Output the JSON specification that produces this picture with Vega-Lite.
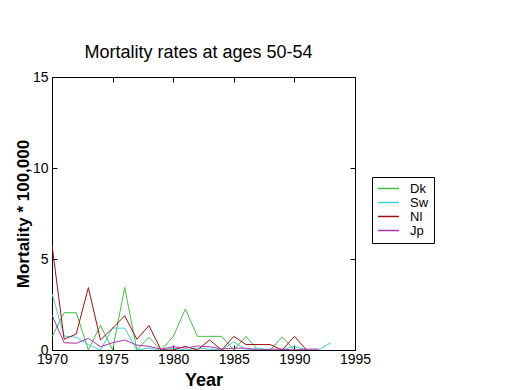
{
  "$schema": "https://vega.github.io/schema/vega-lite/v6.json",
  "width": 303,
  "height": 273,
  "autosize": {"type": "none"},
  "padding": {"left": 52, "top": 77, "right": 165, "bottom": 40},
  "background": "white",
  "config": {
    "view": {"stroke": "black", "strokeWidth": 1},
    "font": "Liberation Sans"
  },
  "title": {
    "text": "Mortality rates at ages 50-54",
    "font": "Liberation Sans",
    "fontSize": 18,
    "fontWeight": "normal",
    "color": "black",
    "offset": 8,
    "dx": -5
  },
  "data": {
    "values": [
      {"year": 1970, "country": "Dk", "v": 0.73},
      {"year": 1971, "country": "Dk", "v": 2.05},
      {"year": 1972, "country": "Dk", "v": 2.05},
      {"year": 1973, "country": "Dk", "v": 0.0},
      {"year": 1974, "country": "Dk", "v": 1.35},
      {"year": 1975, "country": "Dk", "v": 0.0},
      {"year": 1976, "country": "Dk", "v": 3.44},
      {"year": 1977, "country": "Dk", "v": 0.0},
      {"year": 1978, "country": "Dk", "v": 0.7},
      {"year": 1979, "country": "Dk", "v": 0.0},
      {"year": 1980, "country": "Dk", "v": 0.73},
      {"year": 1981, "country": "Dk", "v": 2.25},
      {"year": 1982, "country": "Dk", "v": 0.75},
      {"year": 1983, "country": "Dk", "v": 0.75},
      {"year": 1984, "country": "Dk", "v": 0.75},
      {"year": 1985, "country": "Dk", "v": 0.0},
      {"year": 1986, "country": "Dk", "v": 0.75},
      {"year": 1987, "country": "Dk", "v": 0.0},
      {"year": 1988, "country": "Dk", "v": 0.0},
      {"year": 1989, "country": "Dk", "v": 0.72},
      {"year": 1990, "country": "Dk", "v": 0.0},
      {"year": 1991, "country": "Dk", "v": 0.0},
      {"year": 1970, "country": "Sw", "v": 3.1},
      {"year": 1971, "country": "Sw", "v": 0.77},
      {"year": 1972, "country": "Sw", "v": 0.7},
      {"year": 1973, "country": "Sw", "v": 0.3},
      {"year": 1974, "country": "Sw", "v": 0.0},
      {"year": 1975, "country": "Sw", "v": 1.2},
      {"year": 1976, "country": "Sw", "v": 1.2},
      {"year": 1977, "country": "Sw", "v": 0.0},
      {"year": 1978, "country": "Sw", "v": 0.1},
      {"year": 1979, "country": "Sw", "v": 0.0},
      {"year": 1980, "country": "Sw", "v": 0.1},
      {"year": 1981, "country": "Sw", "v": 0.0},
      {"year": 1982, "country": "Sw", "v": 0.1},
      {"year": 1983, "country": "Sw", "v": 0.05},
      {"year": 1984, "country": "Sw", "v": 0.0},
      {"year": 1985, "country": "Sw", "v": 0.45},
      {"year": 1986, "country": "Sw", "v": 0.0},
      {"year": 1987, "country": "Sw", "v": 0.1},
      {"year": 1988, "country": "Sw", "v": 0.0},
      {"year": 1989, "country": "Sw", "v": 0.0},
      {"year": 1990, "country": "Sw", "v": 0.2},
      {"year": 1991, "country": "Sw", "v": 0.0},
      {"year": 1992, "country": "Sw", "v": 0.0},
      {"year": 1993, "country": "Sw", "v": 0.4},
      {"year": 1970, "country": "Nl", "v": 5.77},
      {"year": 1971, "country": "Nl", "v": 0.59},
      {"year": 1972, "country": "Nl", "v": 0.88},
      {"year": 1973, "country": "Nl", "v": 3.43},
      {"year": 1974, "country": "Nl", "v": 0.55},
      {"year": 1975, "country": "Nl", "v": 1.2},
      {"year": 1976, "country": "Nl", "v": 1.88},
      {"year": 1977, "country": "Nl", "v": 0.59},
      {"year": 1978, "country": "Nl", "v": 1.34},
      {"year": 1979, "country": "Nl", "v": 0.0},
      {"year": 1980, "country": "Nl", "v": 0.0},
      {"year": 1981, "country": "Nl", "v": 0.2},
      {"year": 1982, "country": "Nl", "v": 0.0},
      {"year": 1983, "country": "Nl", "v": 0.55},
      {"year": 1984, "country": "Nl", "v": 0.0},
      {"year": 1985, "country": "Nl", "v": 0.75},
      {"year": 1986, "country": "Nl", "v": 0.3},
      {"year": 1987, "country": "Nl", "v": 0.3},
      {"year": 1988, "country": "Nl", "v": 0.3},
      {"year": 1989, "country": "Nl", "v": 0.0},
      {"year": 1990, "country": "Nl", "v": 0.75},
      {"year": 1991, "country": "Nl", "v": 0.0},
      {"year": 1970, "country": "Jp", "v": 1.92},
      {"year": 1971, "country": "Jp", "v": 0.4},
      {"year": 1972, "country": "Jp", "v": 0.37},
      {"year": 1973, "country": "Jp", "v": 0.64},
      {"year": 1974, "country": "Jp", "v": 0.18},
      {"year": 1975, "country": "Jp", "v": 0.4},
      {"year": 1976, "country": "Jp", "v": 0.55},
      {"year": 1977, "country": "Jp", "v": 0.27},
      {"year": 1978, "country": "Jp", "v": 0.2},
      {"year": 1979, "country": "Jp", "v": 0.05},
      {"year": 1980, "country": "Jp", "v": 0.18},
      {"year": 1981, "country": "Jp", "v": 0.1},
      {"year": 1982, "country": "Jp", "v": 0.22},
      {"year": 1983, "country": "Jp", "v": 0.18},
      {"year": 1984, "country": "Jp", "v": 0.05},
      {"year": 1985, "country": "Jp", "v": 0.1},
      {"year": 1986, "country": "Jp", "v": 0.1},
      {"year": 1987, "country": "Jp", "v": 0.0},
      {"year": 1988, "country": "Jp", "v": 0.05},
      {"year": 1989, "country": "Jp", "v": 0.05},
      {"year": 1990, "country": "Jp", "v": 0.0},
      {"year": 1991, "country": "Jp", "v": 0.05},
      {"year": 1992, "country": "Jp", "v": 0.05}
    ]
  },
  "resolve": {"axis": {"x": "independent", "y": "independent"}},
  "layer": [
    {
      "mark": {"type": "line", "strokeWidth": 1, "clip": true},
      "encoding": {
        "x": {
          "field": "year", "type": "quantitative",
          "scale": {"domain": [1970, 1995], "nice": false, "zero": false},
          "axis": {
            "title": "Year", "titleFont": "Liberation Sans", "titleFontSize": 18, "titleFontWeight": "bold", "titleColor": "black", "titlePadding": 5,
            "values": [1970, 1975, 1980, 1985, 1990, 1995], "format": "d",
            "labelFont": "Liberation Sans", "labelFontSize": 14, "labelColor": "black", "labelPadding": 2,
            "ticks": false, "domainColor": "black", "grid": false, "labelFlush": false
          }
        },
        "y": {
          "field": "v", "type": "quantitative",
          "scale": {"domain": [0, 15], "nice": false},
          "axis": {
            "title": "Mortality * 100,000", "titleFont": "Liberation Sans", "titleFontSize": 17, "titleFontWeight": "bold", "titleColor": "black", "titlePadding": 0,
            "values": [0, 5, 10, 15],
            "labelFont": "Liberation Sans", "labelFontSize": 14, "labelColor": "black", "labelPadding": 4,
            "ticks": false, "domainColor": "black", "grid": false, "labelFlush": false
          }
        },
        "color": {
          "field": "country", "type": "nominal", "sort": ["Dk", "Sw", "Nl", "Jp"],
          "scale": {"domain": ["Dk", "Sw", "Nl", "Jp"], "range": ["#40c040", "#40d0d0", "#a01010", "#b030b0"]},
          "legend": {
            "title": null, "orient": "none", "legendX": 320, "legendY": 100,
            "strokeColor": "black", "fillColor": "white", "padding": 5,
            "symbolType": "stroke", "symbolSize": 441, "symbolStrokeWidth": 1.5, "symbolOpacity": 1,
            "labelFont": "Liberation Sans", "labelFontSize": 13, "labelColor": "black", "labelOffset": 10, "labelLimit": 60,
            "labelExpr": "datum.label + '  '",
            "rowPadding": 0, "clipHeight": 13, "direction": "vertical"
          }
        }
      }
    },
    {
      "mark": {"type": "line", "strokeOpacity": 0},
      "encoding": {
        "x": {
          "field": "year", "type": "quantitative",
          "axis": {"orient": "top", "offset": -273, "values": [1970, 1975, 1980, 1985, 1990, 1995], "labels": false, "title": null, "domain": false, "grid": false, "tickSize": 5, "tickColor": "black"}
        },
        "y": {
          "field": "v", "type": "quantitative",
          "axis": {"orient": "right", "offset": -303, "values": [0, 5, 10, 15], "labels": false, "title": null, "domain": false, "grid": false, "tickSize": 5, "tickColor": "black"}
        },
        "detail": {"field": "country"}
      }
    },
    {
      "mark": {"type": "line", "strokeOpacity": 0},
      "encoding": {
        "x": {
          "field": "year", "type": "quantitative",
          "axis": {"orient": "bottom", "offset": -273, "values": [1970, 1975, 1980, 1985, 1990, 1995], "labels": false, "title": null, "domain": false, "grid": false, "tickSize": 5, "tickColor": "black"}
        },
        "y": {
          "field": "v", "type": "quantitative",
          "axis": {"orient": "left", "offset": -303, "values": [0, 5, 10, 15], "labels": false, "title": null, "domain": false, "grid": false, "tickSize": 5, "tickColor": "black"}
        },
        "detail": {"field": "country"}
      }
    }
  ]
}
